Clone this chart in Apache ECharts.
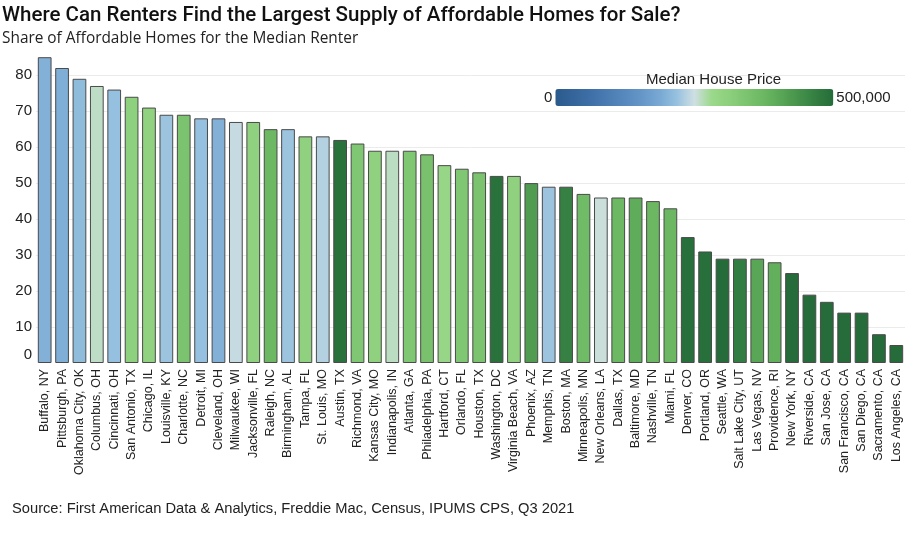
<!DOCTYPE html>
<html><head><meta charset="utf-8">
<script src="https://cdn.jsdelivr.net/npm/echarts@6/dist/echarts.min.js"></script>
<style>html,body{margin:0;padding:0;background:#fff}#c{width:911px;height:536px}</style>
</head><body><div id="c"></div>
<script>
// Metro areas (x categories)
const cities = ['Buffalo, NY','Pittsburgh, PA','Oklahoma City, OK','Columbus, OH','Cincinnati, OH','San Antonio, TX','Chicago, IL','Louisville, KY','Charlotte, NC','Detroit, MI','Cleveland, OH','Milwaukee, WI','Jacksonville, FL','Raleigh, NC','Birmingham, AL','Tampa, FL','St. Louis, MO','Austin, TX','Richmond, VA','Kansas City, MO','Indianapolis, IN','Atlanta, GA','Philadelphia, PA','Hartford, CT','Orlando, FL','Houston, TX','Washington, DC','Virginia Beach, VA','Phoenix, AZ','Memphis, TN','Boston, MA','Minneapolis, MN','New Orleans, LA','Dallas, TX','Baltimore, MD','Nashville, TN','Miami, FL','Denver, CO','Portland, OR','Seattle, WA','Salt Lake City, UT','Las Vegas, NV','Providence, RI','New York, NY','Riverside, CA','San Jose, CA','San Francisco, CA','San Diego, CA','Sacramento, CA','Los Angeles, CA'];
// Share of affordable homes for the median renter (%)
const shares = [85,82,79,77,76,74,71,69,69,68,68,67,67,65,65,63,63,62,61,59,59,59,58,55,54,53,52,52,50,49,49,47,46,46,46,45,43,35,31,29,29,29,28,25,19,17,14,14,8,5];
// Median house price
const medianPrices = [198000,195000,212000,260000,218000,310000,302000,222000,345000,218000,198000,245000,305000,372000,222000,305000,235000,490000,335000,305000,262000,335000,350000,292000,335000,345000,490000,305000,420000,222000,465000,365000,253000,372000,395000,375000,375000,495000,495000,500000,470000,405000,390000,500000,500000,500000,500000,500000,500000,500000];
// Axis ticks
const yMax = 87;
const yInterval = 10;
const priceRange = [0, 500000];
const priceLabels = ['500,000', '0'];

const chart = echarts.init(document.getElementById('c'));
const splitColors = ['rgba(0,0,0,0)'];
for (let v = yInterval; v < yMax; v += yInterval) splitColors.push('#ebebeb');
splitColors.push('rgba(0,0,0,0)');

chart.setOption({
  animation: false,
  backgroundColor: '#fff',
  title: [
    {text: 'Where Can Renters Find the Largest Supply of Affordable Homes for Sale?', left: 2, top: 5, padding: 0,
     textStyle: {fontFamily: 'Roboto', fontSize: 20.5, fontWeight: 500, color: '#111'}},
    {text: 'Share of Affordable Homes for the Median Renter', left: 2, top: 31, padding: 0,
     textStyle: {fontFamily: 'Open Sans', fontSize: 15.4, fontWeight: 400, color: '#222'}},
    {text: 'Median House Price', left: 646, top: 72, padding: 0,
     textStyle: {fontFamily: 'Liberation Sans', fontSize: 15, fontWeight: 'normal', color: '#222'}},
    {text: 'Source: First American Data & Analytics, Freddie Mac, Census, IPUMS CPS, Q3 2021', left: 12, top: 501, padding: 0,
     textStyle: {fontFamily: 'Liberation Sans', fontSize: 14.7, fontWeight: 'normal', color: '#222'}}
  ],
  grid: {left: 36, right: 6, top: 50, bottom: 173},
  visualMap: {
    type: 'continuous', seriesIndex: 0, dimension: 2,
    min: priceRange[0], max: priceRange[1], calculable: false, orient: 'horizontal',
    left: 529, top: 74, itemWidth: 17, itemHeight: 278, text: priceLabels, textGap: 3,
    textStyle: {fontFamily: 'Liberation Sans', fontSize: 15, color: '#222'},
    inRange: {color: ['#2b5a8d','#34649a','#3e6fa6','#4a7cb2','#5789be','#6697c8','#78a8d3','#97c1df','#cfdfe3','#9bd98a','#8ccf7d','#7cc46f','#6bb762','#58a656','#45924b','#337e41','#256c3a']}
  },
  xAxis: {
    type: 'category', data: cities,
    axisLine: {show: false}, axisTick: {show: false},
    axisLabel: {rotate: 90, interval: 0, fontFamily: 'Liberation Sans', fontSize: 12.5, color: '#222', margin: 6}
  },
  yAxis: {
    type: 'value', min: 0, max: yMax, interval: yInterval,
    axisLine: {show: false}, axisTick: {show: false},
    splitLine: {show: true, lineStyle: {color: splitColors, width: 1}},
    axisLabel: {
      showMaxLabel: false, margin: 4, fontFamily: 'Liberation Sans', fontSize: 15, color: '#222',
      formatter: v => v === 0 ? '{z|0}' : (v % yInterval === 0 ? String(v) : ''),
      rich: {z: {fontFamily: 'Liberation Sans', fontSize: 15, color: '#222', padding: [0, 0, 16, 0]}}
    }
  },
  series: [{
    type: 'bar',
    data: cities.map((c, i) => [c, shares[i], medianPrices[i]]),
    encode: {x: 0, y: 1},
    barCategoryGap: '21%',
    itemStyle: {borderColor: '#4a4a4a', borderWidth: 1}
  }]
});
</script></body></html>
